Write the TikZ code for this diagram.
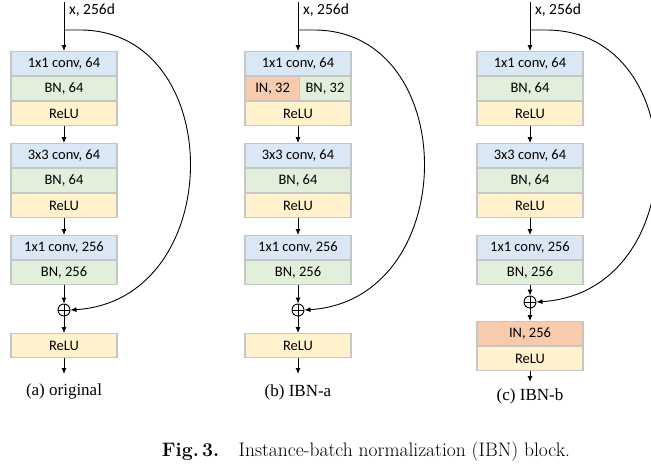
\documentclass[tikz,border=0pt]{standalone}
\usepackage{fontspec}
\setmainfont{Carlito}
\newfontfamily\capfont{Latin Modern Roman}
\newfontfamily\subfont{Liberation Serif}
\usetikzlibrary{arrows.meta}
\definecolor{cconv}{HTML}{DAE8F5}
\definecolor{cbn}{HTML}{E2EFDA}
\definecolor{crelu}{HTML}{FFF2CC}
\definecolor{cin}{HTML}{F8CBAD}
\begin{document}
\begin{tikzpicture}[x=1pt,y=-1pt,
 blk/.style={draw=gray!45,line width=1.2pt,minimum width=106pt,minimum height=24pt,inner sep=0pt,font=\fontsize{14.5}{15}\selectfont,anchor=north},
 conv/.style={blk,fill=cconv}, bn/.style={blk,fill=cbn}, relu/.style={blk,fill=crelu}, inb/.style={blk,fill=cin},
 arr/.style={-{Latex[length=6pt,width=5pt]},line width=0.9pt},
 plus/.style={circle,draw,line width=0.9pt,minimum size=12pt,inner sep=0pt,path picture={\draw[line width=0.9pt] (path picture bounding box.north)--(path picture bounding box.south) (path picture bounding box.west)--(path picture bounding box.east);}},
 lab/.style={font=\fontsize{15.5}{16}\selectfont},
 sub/.style={font=\subfont\fontsize{17}{18}\selectfont}]
\useasboundingbox (0,0) rectangle (651,466);
% ---------- (a)
\node[lab] (xa) at (92,10) {x, 256d};
\coordinate (ta) at (64,2);
\coordinate (sa) at (64,30);
\node[conv] (a1) at (64,51) {1x1 conv, 64};
\node[bn] (a2) at (64,76) {BN, 64};
\node[relu] (a3) at (64,101) {ReLU};
\node[conv] (a4) at (64,143) {3x3 conv, 64};
\node[bn] (a5) at (64,168) {BN, 64};
\node[relu] (a6) at (64,193) {ReLU};
\node[conv] (a7) at (64,235) {1x1 conv, 256};
\node[bn] (a8) at (64,260) {BN, 256};
\node[plus] (ap) at (64,310) {};
\node[relu] (a9) at (64,333) {ReLU};
\coordinate (ea) at (64,374);
\draw[arr] (ta) -- (a1.north);
\draw[arr] (a3.south) -- (a4.north);
\draw[arr] (a6.south) -- (a7.north);
\draw[arr] (a8.south) -- (ap.north);
\draw[arr] (ap.south) -- (a9.north);
\draw[arr] (a9.south) -- (ea);
\draw[arr] (sa) -- (80,30) .. controls (228,30) and (228,300) .. (ap.east);
\node[sub] (ca) at (64,391) {(a) original};
% ---------- (b)
\node[lab] (xb) at (326,10) {x, 256d};
\coordinate (tb) at (298,2);
\coordinate (sb) at (298,30);
\node[conv] (b1) at (298,51) {1x1 conv, 64};
\node[bn] (b2) at (298,76) {\hspace*{54pt}BN, 32};
\node[inb,minimum width=54pt,anchor=north west] (b2i) at (245,76) {IN, 32};
\node[relu] (b3) at (298,101) {ReLU};
\node[conv] (b4) at (298,143) {3x3 conv, 64};
\node[bn] (b5) at (298,168) {BN, 64};
\node[relu] (b6) at (298,193) {ReLU};
\node[conv] (b7) at (298,235) {1x1 conv, 256};
\node[bn] (b8) at (298,260) {BN, 256};
\node[plus] (bp) at (298,310) {};
\node[relu] (b9) at (298,333) {ReLU};
\coordinate (eb) at (298,374);
\draw[arr] (tb) -- (b1.north);
\draw[arr] (b3.south) -- (b4.north);
\draw[arr] (b6.south) -- (b7.north);
\draw[arr] (b8.south) -- (bp.north);
\draw[arr] (bp.south) -- (b9.north);
\draw[arr] (b9.south) -- (eb);
\draw[arr] (sb) -- (314,30) .. controls (462,30) and (462,300) .. (bp.east);
\node[sub] (cb) at (298,392) {(b) IBN-a};
% ---------- (c)
\node[lab] (xc) at (558,10) {x, 256d};
\coordinate (tc) at (530,2);
\coordinate (sc) at (530,30);
\node[conv] (c1) at (530,51) {1x1 conv, 64};
\node[bn] (c2) at (530,76) {BN, 64};
\node[relu] (c3) at (530,101) {ReLU};
\node[conv] (c4) at (530,143) {3x3 conv, 64};
\node[bn] (c5) at (530,168) {BN, 64};
\node[relu] (c6) at (530,193) {ReLU};
\node[conv] (c7) at (530,235) {1x1 conv, 256};
\node[bn] (c8) at (530,260) {BN, 256};
\node[plus] (cp) at (530,302) {};
\node[inb] (c9) at (530,321) {IN, 256};
\node[relu] (c10) at (530,346) {ReLU};
\coordinate (ec) at (530,382);
\draw[arr] (tc) -- (c1.north);
\draw[arr] (c3.south) -- (c4.north);
\draw[arr] (c6.south) -- (c7.north);
\draw[arr] (c8.south) -- (cp.north);
\draw[arr] (cp.south) -- (c9.north);
\draw[arr] (c10.south) -- (ec);
\draw[arr] (sc) -- (546,30) .. controls (694,30) and (694,292) .. (cp.east);
\node[sub] (cc) at (530,396) {(c) IBN-b};
% caption
\node[font=\capfont\fontsize{19.5}{20}\selectfont] (fig) at (366,452) {\textbf{Fig.\,3.}\quad Instance-batch normalization (IBN) block.};
\end{tikzpicture}
\end{document}
